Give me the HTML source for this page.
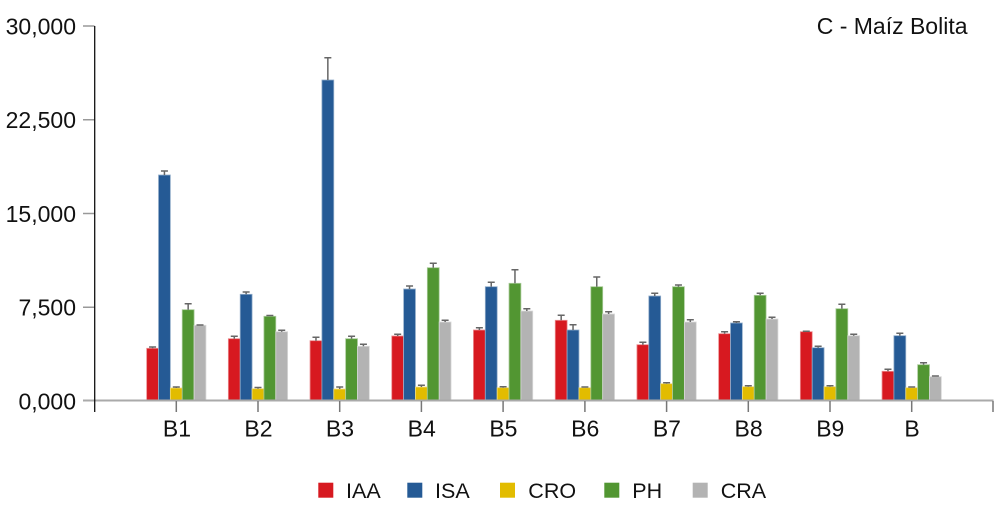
<!DOCTYPE html>
<html><head><meta charset="utf-8"><style>
html,body{margin:0;padding:0;background:#fff;}
svg{display:block;}
text{font-family:"Liberation Sans",Arial,sans-serif;fill:#111;}
.r{fill:#d71920;stroke:#ec8c8f;stroke-width:0.8}
.b{fill:#255a95;stroke:#92adca;stroke-width:0.8}
.y{fill:#e2bc00;stroke:#f0dd80;stroke-width:0.8}
.g{fill:#529632;stroke:#a8ca98;stroke-width:0.8}
.s{fill:#b3b3b3;stroke:#d9d9d9;stroke-width:0.8}
.e{fill:none;stroke:#666;stroke-width:1.5}
</style></head><body>
<svg width="997" height="532" viewBox="0 0 997 532" xmlns="http://www.w3.org/2000/svg">
<rect width="997" height="532" fill="#fff"/>

<!-- y ticks -->
<g stroke="#999" stroke-width="1.5">
<line x1="83" y1="26" x2="94.5" y2="26"/>
<line x1="83" y1="119.75" x2="94.5" y2="119.75"/>
<line x1="83" y1="213.5" x2="94.5" y2="213.5"/>
<line x1="83" y1="307.25" x2="94.5" y2="307.25"/>
</g>
<g font-size="23" text-anchor="end">
<text x="76" y="34.3">30,000</text>
<text x="76" y="128">22,500</text>
<text x="76" y="221.8">15,000</text>
<text x="76" y="315.5">7,500</text>
<text x="76" y="409.3">0,000</text>
</g>

<!-- B1 -->
<g transform="translate(176.3,0)">
<rect class="r" x="-29.65" y="348.3" width="11.86" height="51.7"/>
<rect class="b" x="-17.79" y="175" width="11.86" height="225"/>
<rect class="y" x="-5.93" y="388" width="11.86" height="12"/>
<rect class="g" x="5.93" y="309.7" width="11.86" height="90.3"/>
<rect class="s" x="17.79" y="325.3" width="11.86" height="74.7"/>
<path class="e" d="M-23.72 348.3V347M-27.22 347H-20.22M-11.86 175V171M-15.36 171H-8.36M0 388V387M-3.5 387H3.5M11.86 309.7V303.7M8.36 303.7H15.36M23.72 325.3V325M20.22 325H27.22"/>
</g>
<!-- B2 -->
<g transform="translate(258,0)">
<rect class="r" x="-29.65" y="338.7" width="11.86" height="61.3"/>
<rect class="b" x="-17.79" y="294.3" width="11.86" height="105.7"/>
<rect class="y" x="-5.93" y="388.7" width="11.86" height="11.3"/>
<rect class="g" x="5.93" y="316.3" width="11.86" height="83.7"/>
<rect class="s" x="17.79" y="331.7" width="11.86" height="68.3"/>
<path class="e" d="M-23.72 338.7V336.3M-27.22 336.3H-20.22M-11.86 294.3V292M-15.36 292H-8.36M0 388.7V387.5M-3.5 387.5H3.5M11.86 316.3V315.5M8.36 315.5H15.36M23.72 331.7V330.3M20.22 330.3H27.22"/>
</g>
<!-- B3 -->
<g transform="translate(339.7,0)">
<rect class="r" x="-29.65" y="340.7" width="11.86" height="59.3"/>
<rect class="b" x="-17.79" y="80" width="11.86" height="320"/>
<rect class="y" x="-5.93" y="389" width="11.86" height="11"/>
<rect class="g" x="5.93" y="338.7" width="11.86" height="61.3"/>
<rect class="s" x="17.79" y="346.3" width="11.86" height="53.7"/>
<path class="e" d="M-23.72 340.7V337.3M-27.22 337.3H-20.22M-11.86 80V57.7M-15.36 57.7H-8.36M0 389V387M-3.5 387H3.5M11.86 338.7V336.3M8.36 336.3H15.36M23.72 346.3V344.3M20.22 344.3H27.22"/>
</g>
<!-- B4 -->
<g transform="translate(421.4,0)">
<rect class="r" x="-29.65" y="336" width="11.86" height="64"/>
<rect class="b" x="-17.79" y="289" width="11.86" height="111"/>
<rect class="y" x="-5.93" y="387" width="11.86" height="13"/>
<rect class="g" x="5.93" y="267.7" width="11.86" height="132.3"/>
<rect class="s" x="17.79" y="322" width="11.86" height="78"/>
<path class="e" d="M-23.72 336V334.3M-27.22 334.3H-20.22M-11.86 289V286M-15.36 286H-8.36M0 387V385.3M-3.5 385.3H3.5M11.86 267.7V263.3M8.36 263.3H15.36M23.72 322V320.3M20.22 320.3H27.22"/>
</g>
<!-- B5 -->
<g transform="translate(503.1,0)">
<rect class="r" x="-29.65" y="330" width="11.86" height="70"/>
<rect class="b" x="-17.79" y="286.7" width="11.86" height="113.3"/>
<rect class="y" x="-5.93" y="387.7" width="11.86" height="12.3"/>
<rect class="g" x="5.93" y="283.3" width="11.86" height="116.7"/>
<rect class="s" x="17.79" y="311" width="11.86" height="89"/>
<path class="e" d="M-23.72 330V327.7M-27.22 327.7H-20.22M-11.86 286.7V282.3M-15.36 282.3H-8.36M0 387.7V386.7M-3.5 386.7H3.5M11.86 283.3V269.7M8.36 269.7H15.36M23.72 311V308.7M20.22 308.7H27.22"/>
</g>
<!-- B6 -->
<g transform="translate(584.9,0)">
<rect class="r" x="-29.65" y="320.3" width="11.86" height="79.7"/>
<rect class="b" x="-17.79" y="330" width="11.86" height="70"/>
<rect class="y" x="-5.93" y="387.7" width="11.86" height="12.3"/>
<rect class="g" x="5.93" y="286.7" width="11.86" height="113.3"/>
<rect class="s" x="17.79" y="314" width="11.86" height="86"/>
<path class="e" d="M-23.72 320.3V315.3M-27.22 315.3H-20.22M-11.86 330V324.7M-15.36 324.7H-8.36M0 387.7V387M-3.5 387H3.5M11.86 286.7V277M8.36 277H15.36M23.72 314V311.7M20.22 311.7H27.22"/>
</g>
<!-- B7 -->
<g transform="translate(666.6,0)">
<rect class="r" x="-29.65" y="344.7" width="11.86" height="55.3"/>
<rect class="b" x="-17.79" y="296" width="11.86" height="104"/>
<rect class="y" x="-5.93" y="383.7" width="11.86" height="16.3"/>
<rect class="g" x="5.93" y="286.7" width="11.86" height="113.3"/>
<rect class="s" x="17.79" y="322" width="11.86" height="78"/>
<path class="e" d="M-23.72 344.7V342.3M-27.22 342.3H-20.22M-11.86 296V293.3M-15.36 293.3H-8.36M0 383.7V382.7M-3.5 382.7H3.5M11.86 286.7V285M8.36 285H15.36M23.72 322V319.7M20.22 319.7H27.22"/>
</g>
<!-- B8 -->
<g transform="translate(748.3,0)">
<rect class="r" x="-29.65" y="333.7" width="11.86" height="66.3"/>
<rect class="b" x="-17.79" y="323" width="11.86" height="77"/>
<rect class="y" x="-5.93" y="386.7" width="11.86" height="13.3"/>
<rect class="g" x="5.93" y="295.3" width="11.86" height="104.7"/>
<rect class="s" x="17.79" y="319" width="11.86" height="81"/>
<path class="e" d="M-23.72 333.7V331.7M-27.22 331.7H-20.22M-11.86 323V321.7M-15.36 321.7H-8.36M0 386.7V385.7M-3.5 385.7H3.5M11.86 295.3V293.3M8.36 293.3H15.36M23.72 319V317.3M20.22 317.3H27.22"/>
</g>
<!-- B9 -->
<g transform="translate(830,0)">
<rect class="r" x="-29.65" y="331.7" width="11.86" height="68.3"/>
<rect class="b" x="-17.79" y="347.7" width="11.86" height="52.3"/>
<rect class="y" x="-5.93" y="386.7" width="11.86" height="13.3"/>
<rect class="g" x="5.93" y="308.7" width="11.86" height="91.3"/>
<rect class="s" x="17.79" y="335.7" width="11.86" height="64.3"/>
<path class="e" d="M-23.72 331.7V331.3M-27.22 331.3H-20.22M-11.86 347.7V346.3M-15.36 346.3H-8.36M0 386.7V385.7M-3.5 385.7H3.5M11.86 308.7V304.3M8.36 304.3H15.36M23.72 335.7V334.3M20.22 334.3H27.22"/>
</g>
<!-- B -->
<g transform="translate(911.7,0)">
<rect class="r" x="-29.65" y="371.3" width="11.86" height="28.7"/>
<rect class="b" x="-17.79" y="335.7" width="11.86" height="64.3"/>
<rect class="y" x="-5.93" y="387.7" width="11.86" height="12.3"/>
<rect class="g" x="5.93" y="364.7" width="11.86" height="35.3"/>
<rect class="s" x="17.79" y="376.7" width="11.86" height="23.3"/>
<path class="e" d="M-23.72 371.3V369.3M-27.22 369.3H-20.22M-11.86 335.7V333.3M-15.36 333.3H-8.36M0 387.7V387M-3.5 387H3.5M11.86 364.7V362.7M8.36 362.7H15.36M23.72 376.7V376M20.22 376H27.22"/>
</g>

<!-- x axis -->
<line x1="83" y1="400.5" x2="993.5" y2="400.5" stroke="#aaa" stroke-width="2"/>
<g stroke="#777" stroke-width="1.5">
<line x1="176.3" y1="401" x2="176.3" y2="412"/>
<line x1="258" y1="401" x2="258" y2="412"/>
<line x1="339.7" y1="401" x2="339.7" y2="412"/>
<line x1="421.4" y1="401" x2="421.4" y2="412"/>
<line x1="503.1" y1="401" x2="503.1" y2="412"/>
<line x1="584.9" y1="401" x2="584.9" y2="412"/>
<line x1="666.6" y1="401" x2="666.6" y2="412"/>
<line x1="748.3" y1="401" x2="748.3" y2="412"/>
<line x1="830" y1="401" x2="830" y2="412"/>
<line x1="911.7" y1="401" x2="911.7" y2="412"/>
<line x1="993" y1="401" x2="993" y2="412"/>
</g>
<!-- y axis -->
<line x1="94.7" y1="26" x2="94.7" y2="412" stroke="#111" stroke-width="1.3"/>

<g font-size="23" text-anchor="middle">
<text x="177" y="436.3">B1</text>
<text x="258.5" y="436.3">B2</text>
<text x="340" y="436.3">B3</text>
<text x="421.7" y="436.3">B4</text>
<text x="503.4" y="436.3">B5</text>
<text x="585.2" y="436.3">B6</text>
<text x="666.9" y="436.3">B7</text>
<text x="748.6" y="436.3">B8</text>
<text x="830.3" y="436.3">B9</text>
<text x="912" y="436.3">B</text>
</g>

<text x="816.7" y="33.8" font-size="23">C - Maíz Bolita</text>

<!-- legend -->
<rect x="318.3" y="482.7" width="15" height="15" fill="#d71920"/>
<rect x="407.3" y="482.7" width="15" height="15" fill="#255a95"/>
<rect x="500" y="482.7" width="15" height="15" fill="#e2bc00"/>
<rect x="604.3" y="482.7" width="15" height="15" fill="#529632"/>
<rect x="692.7" y="482.7" width="15" height="15" fill="#b3b3b3"/>
<g font-size="21.5">
<text x="346" y="497.9">IAA</text>
<text x="435" y="497.9">ISA</text>
<text x="528.3" y="497.9">CRO</text>
<text x="632.3" y="497.9">PH</text>
<text x="720.7" y="497.9">CRA</text>
</g>
</svg>
</body></html>
